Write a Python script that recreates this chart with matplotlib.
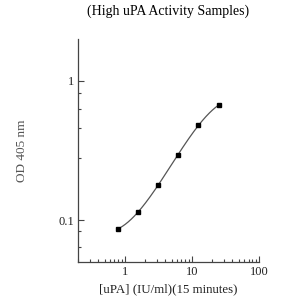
import numpy as np
import matplotlib
matplotlib.use("Agg")
import matplotlib.pyplot as plt
from matplotlib.ticker import FixedLocator, NullFormatter

# standard curve readings
conc = [0.78, 1.56, 3.125, 6.25, 12.5, 25.0]
od = [0.086, 0.114, 0.178, 0.293, 0.483, 0.667]

x_ticks = [1, 10, 100]
x_labels = ["1", "10", "100"]
y_ticks = [0.1, 1]
y_labels = ["0.1", "1"]
y_minor = [0.064, 0.083, 0.28, 0.46, 0.63, 0.82]

plt.rcParams['font.family'] = ['Liberation Serif', 'DejaVu Serif']

fig = plt.figure(figsize=(3, 3), dpi=100)
ax = fig.add_axes([0.26, 0.127, 0.603, 0.743])

# smooth fit in log-log space (cubic)
lx = np.log10(conc)
ly = np.log10(od)
coef = np.polyfit(lx, ly, 3)
xs = np.linspace(lx[0], lx[-1], 200)
ax.plot(10 ** xs, 10 ** np.polyval(coef, xs), color="#555555", lw=0.9)
ax.plot(conc, od, "s", color="black", ms=3.2)

ax.set_xscale("log")
ax.set_yscale("log")
ax.set_xlim(0.2, 100)
ax.set_ylim(0.05, 2)

ax.set_xticks(x_ticks)
ax.set_xticklabels(x_labels)
ax.set_yticks(y_ticks)
ax.set_yticklabels(y_labels)
ax.yaxis.set_minor_locator(FixedLocator(y_minor))
ax.yaxis.set_minor_formatter(NullFormatter())
ax.xaxis.set_minor_formatter(NullFormatter())

for s in ["top", "right"]:
    ax.spines[s].set_visible(False)
for s in ["left", "bottom"]:
    ax.spines[s].set_color("#444444")
    ax.spines[s].set_linewidth(0.9)

ax.tick_params(which="both", direction="in", colors="#444444", labelcolor="#222222",
               labelsize=9, width=0.8)
ax.tick_params(which="major", length=4, pad=3)
ax.tick_params(which="minor", length=2.5)

ax.set_xlabel("[uPA] (IU/ml)(15 minutes)", fontsize=9.3, color="#222222", labelpad=4)
ax.set_ylabel("OD 405 nm", fontsize=9.5, color="#555555", labelpad=22)

# first title line sits mostly above the top edge, as in the reference
fig.text(0.56, 1.028, "Typical Standard Curve", ha="center", va="center", fontsize=10)
fig.text(0.56, 0.963, "(High uPA Activity Samples)", ha="center", va="center", fontsize=10)

fig.savefig("out.png", dpi=100)
